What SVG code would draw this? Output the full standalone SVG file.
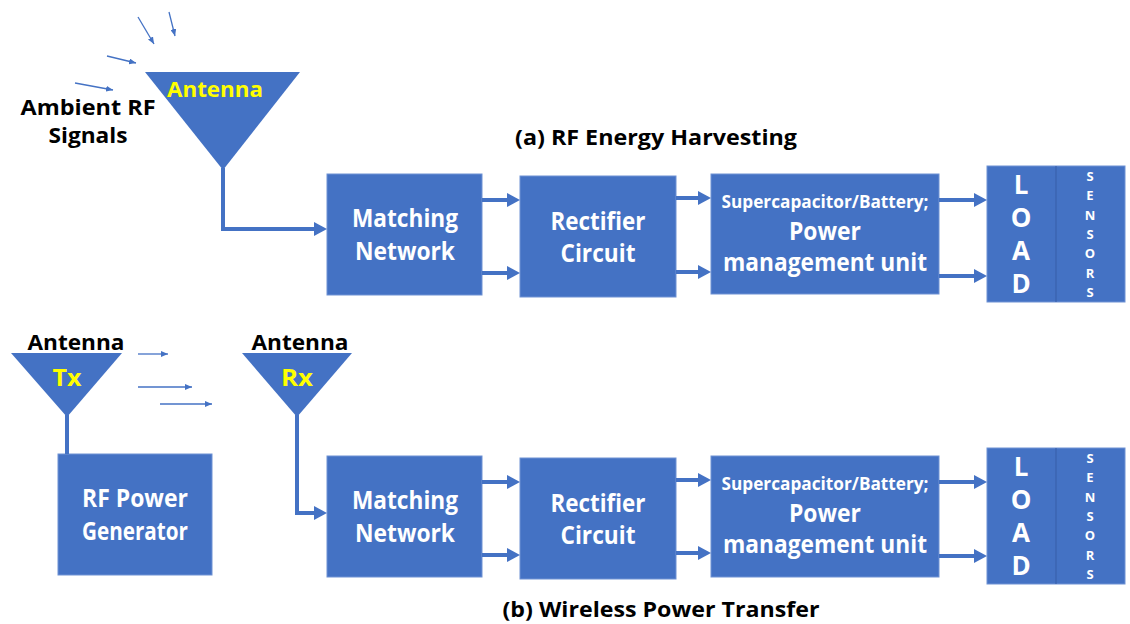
<svg xmlns="http://www.w3.org/2000/svg" width="1130" height="624" viewBox="0 0 1130 624">
  <style>
    .box { fill: #4472C4; stroke: #6E92D4; stroke-width: 1; }
    .ant { fill: #4472C4; }
    .feed { fill: none; stroke: #4472C4; stroke-width: 4; }
    .thin { fill: none; stroke: #4472C4; stroke-width: 1.3; }
    .wt { font-family: "Open Sans", "Liberation Sans", sans-serif; font-weight: 700; fill: #FFFFFF; text-anchor: middle; }
    .bk { font-family: "Open Sans", "Liberation Sans", sans-serif; font-weight: 700; fill: #000000; text-anchor: middle; }
    .yl { font-family: "Open Sans", "Liberation Sans", sans-serif; font-weight: 700; fill: #FFFF00; text-anchor: middle; }
    .divider { stroke: #3A62AD; stroke-width: 1.2; }
  </style>
  <defs>
    <marker id="head" markerUnits="userSpaceOnUse" markerWidth="14" markerHeight="14" refX="3" refY="7" orient="auto">
      <path d="M0,0 L13,7 L0,14 z" fill="#4472C4"/>
    </marker>
    <marker id="tip" markerUnits="userSpaceOnUse" markerWidth="8" markerHeight="6" refX="7" refY="3" orient="auto">
      <path d="M0,0 L7,3 L0,6 z" fill="#4472C4"/>
    </marker>
  </defs>

  <!-- ===== (a) RF Energy Harvesting ===== -->
  <g id="rf-signals-a">
    <text class="bk" x="88" y="115" font-size="21" textLength="135" lengthAdjust="spacingAndGlyphs">Ambient RF</text>
    <text class="bk" x="88" y="143" font-size="21" textLength="79" lengthAdjust="spacingAndGlyphs">Signals</text>
  </g>

  <g id="antenna-a">
    <polygon class="ant" points="145,72 300,72 223,170"/>
    <text class="yl" x="215" y="97" font-size="22" textLength="96" lengthAdjust="spacingAndGlyphs">Antenna</text>
  </g>

  <text id="title-a" class="bk" x="656" y="145" font-size="22" textLength="282" lengthAdjust="spacingAndGlyphs">(a) RF Energy Harvesting</text>

  <g id="matching-a">
    <rect class="box" x="327" y="174" width="155" height="121"/>
    <text class="wt" x="405" y="227" font-size="25" textLength="106" lengthAdjust="spacingAndGlyphs">Matching</text>
    <text class="wt" x="405" y="260" font-size="25" textLength="100" lengthAdjust="spacingAndGlyphs">Network</text>
  </g>

  <g id="rectifier-a">
    <rect class="box" x="520" y="176" width="156" height="121"/>
    <text class="wt" x="598" y="230" font-size="25" textLength="95" lengthAdjust="spacingAndGlyphs">Rectifier</text>
    <text class="wt" x="598" y="262" font-size="25" textLength="75" lengthAdjust="spacingAndGlyphs">Circuit</text>
  </g>

  <g id="pmu-a">
    <rect class="box" x="711" y="174" width="228" height="120"/>
    <text class="wt" x="825" y="208" font-size="18" textLength="207" lengthAdjust="spacingAndGlyphs">Supercapacitor/Battery;</text>
    <text class="wt" x="825" y="240" font-size="25" textLength="72" lengthAdjust="spacingAndGlyphs">Power</text>
    <text class="wt" x="825" y="271" font-size="25" textLength="204" lengthAdjust="spacingAndGlyphs">management unit</text>
  </g>

  <g id="load-a">
    <rect class="box" x="987" y="166" width="138" height="136"/>
    <line class="divider" x1="1056" y1="166" x2="1056" y2="302"/>
    <text class="wt" font-size="26"><tspan x="1021" y="194">L</tspan><tspan x="1021" y="227">O</tspan><tspan x="1021" y="260">A</tspan><tspan x="1021" y="293">D</tspan></text>
    <text class="wt" font-size="13"><tspan x="1090" y="181">S</tspan><tspan x="1090" y="200">E</tspan><tspan x="1090" y="220">N</tspan><tspan x="1090" y="239">S</tspan><tspan x="1090" y="258">O</tspan><tspan x="1090" y="278">R</tspan><tspan x="1090" y="297">S</tspan></text>
  </g>

  <!-- ===== (b) Wireless Power Transfer ===== -->
  <g id="antenna-tx">
    <text class="bk" x="76" y="350" font-size="22" textLength="97" lengthAdjust="spacingAndGlyphs">Antenna</text>
    <polygon class="ant" points="11,353 122,353 67,417"/>
    <text class="yl" x="67" y="386" font-size="24" textLength="29" lengthAdjust="spacingAndGlyphs">Tx</text>
  </g>

  <g id="generator">
    <rect class="box" x="58" y="454" width="154" height="121"/>
    <text class="wt" x="135" y="507" font-size="25" textLength="106" lengthAdjust="spacingAndGlyphs">RF Power</text>
    <text class="wt" x="135" y="540" font-size="25" textLength="106" lengthAdjust="spacingAndGlyphs">Generator</text>
  </g>

  <g id="antenna-rx">
    <text class="bk" x="300" y="350" font-size="22" textLength="97" lengthAdjust="spacingAndGlyphs">Antenna</text>
    <polygon class="ant" points="242,353 352,353 297,417"/>
    <text class="yl" x="297" y="386" font-size="24" textLength="32" lengthAdjust="spacingAndGlyphs">Rx</text>
  </g>

  <g id="matching-b">
    <rect class="box" x="327" y="456" width="155" height="121"/>
    <text class="wt" x="405" y="509" font-size="25" textLength="106" lengthAdjust="spacingAndGlyphs">Matching</text>
    <text class="wt" x="405" y="542" font-size="25" textLength="100" lengthAdjust="spacingAndGlyphs">Network</text>
  </g>

  <g id="rectifier-b">
    <rect class="box" x="520" y="458" width="156" height="121"/>
    <text class="wt" x="598" y="512" font-size="25" textLength="95" lengthAdjust="spacingAndGlyphs">Rectifier</text>
    <text class="wt" x="598" y="544" font-size="25" textLength="75" lengthAdjust="spacingAndGlyphs">Circuit</text>
  </g>

  <g id="pmu-b">
    <rect class="box" x="711" y="456" width="228" height="121"/>
    <text class="wt" x="825" y="490" font-size="18" textLength="207" lengthAdjust="spacingAndGlyphs">Supercapacitor/Battery;</text>
    <text class="wt" x="825" y="522" font-size="25" textLength="72" lengthAdjust="spacingAndGlyphs">Power</text>
    <text class="wt" x="825" y="553" font-size="25" textLength="204" lengthAdjust="spacingAndGlyphs">management unit</text>
  </g>

  <g id="load-b">
    <rect class="box" x="987" y="448" width="138" height="136"/>
    <line class="divider" x1="1056" y1="448" x2="1056" y2="584"/>
    <text class="wt" font-size="26"><tspan x="1021" y="476">L</tspan><tspan x="1021" y="509">O</tspan><tspan x="1021" y="542">A</tspan><tspan x="1021" y="575">D</tspan></text>
    <text class="wt" font-size="13"><tspan x="1090" y="463">S</tspan><tspan x="1090" y="482">E</tspan><tspan x="1090" y="502">N</tspan><tspan x="1090" y="521">S</tspan><tspan x="1090" y="540">O</tspan><tspan x="1090" y="560">R</tspan><tspan x="1090" y="579">S</tspan></text>
  </g>

  <text id="title-b" class="bk" x="661" y="617" font-size="22" textLength="317" lengthAdjust="spacingAndGlyphs">(b) Wireless Power Transfer</text>

  <!-- ===== connectors ===== -->
  <g id="connectors">
    <!-- incoming ambient waves -->
    <line class="thin" x1="75" y1="83" x2="113" y2="90" marker-end="url(#tip)"/>
    <line class="thin" x1="107" y1="56" x2="136" y2="63" marker-end="url(#tip)"/>
    <line class="thin" x1="138" y1="17" x2="154" y2="44" marker-end="url(#tip)"/>
    <line class="thin" x1="169" y1="12" x2="175" y2="36" marker-end="url(#tip)"/>

    <!-- chain (a) -->
    <path class="feed" d="M223,168 V229 H317" marker-end="url(#head)"/>
    <line class="feed" x1="482" y1="200" x2="510" y2="200" marker-end="url(#head)"/>
    <line class="feed" x1="482" y1="273" x2="510" y2="273" marker-end="url(#head)"/>
    <line class="feed" x1="676" y1="198" x2="701" y2="198" marker-end="url(#head)"/>
    <line class="feed" x1="676" y1="272" x2="701" y2="272" marker-end="url(#head)"/>
    <line class="feed" x1="939" y1="200" x2="977" y2="200" marker-end="url(#head)"/>
    <line class="feed" x1="939" y1="276" x2="977" y2="276" marker-end="url(#head)"/>

    <!-- transmitted waves -->
    <line class="thin" x1="138" y1="354" x2="168" y2="354" marker-end="url(#tip)"/>
    <line class="thin" x1="138" y1="387" x2="192" y2="387" marker-end="url(#tip)"/>
    <line class="thin" x1="160" y1="404" x2="212" y2="404" marker-end="url(#tip)"/>

    <!-- chain (b) -->
    <line class="feed" x1="67" y1="415" x2="67" y2="454"/>
    <path class="feed" d="M297,415 V513 H317" marker-end="url(#head)"/>
    <line class="feed" x1="482" y1="482" x2="510" y2="482" marker-end="url(#head)"/>
    <line class="feed" x1="482" y1="555" x2="510" y2="555" marker-end="url(#head)"/>
    <line class="feed" x1="676" y1="480" x2="701" y2="480" marker-end="url(#head)"/>
    <line class="feed" x1="676" y1="553" x2="701" y2="553" marker-end="url(#head)"/>
    <line class="feed" x1="939" y1="482" x2="977" y2="482" marker-end="url(#head)"/>
    <line class="feed" x1="939" y1="556" x2="977" y2="556" marker-end="url(#head)"/>
  </g>
</svg>
